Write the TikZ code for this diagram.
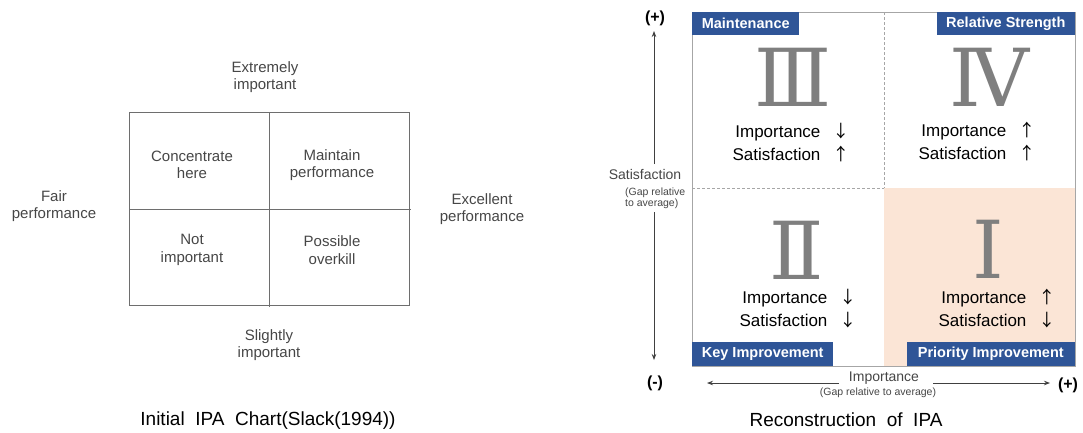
\documentclass[tikz,border=0pt]{standalone}
\usepackage{fontspec}
\setmainfont{Liberation Sans}
\newfontfamily\cjkfont{Noto Sans CJK KR}
\newfontfamily\romanfont{DejaVu Serif}
\usetikzlibrary{arrows.meta,positioning}
\definecolor{hdr_blue}{RGB}{47,85,151}
\definecolor{prio_pink}{RGB}{251,229,214}
\definecolor{num_gray}{RGB}{127,127,127}
\definecolor{frame_gray}{RGB}{166,166,166}
\definecolor{chart_gray}{RGB}{110,110,110}
\definecolor{txt_gray}{RGB}{70,70,70}
\tikzstyle{slack}=[align=center,text=txt_gray,inner sep=0pt,
  font=\fontsize{15}{17.5}\selectfont]
\tikzstyle{hdr}=[fill=hdr_blue,text=white,inner sep=0pt,
  font=\bfseries\fontsize{14.5}{16}\selectfont]
\tikzstyle{numeral}=[text=num_gray,inner sep=0pt,text height=58pt,text depth=0pt,
  font=\romanfont\fontsize{80}{80}\selectfont]
\tikzstyle{trend}=[inner sep=0pt,font=\fontsize{17}{23}\selectfont]
\tikzstyle{axlab}=[align=center,text=txt_gray,inner sep=0pt,font=\fontsize{14}{15}\selectfont]
\tikzstyle{gap}=[align=left,text=txt_gray,inner sep=0pt,font=\fontsize{10.5}{11}\selectfont]
\tikzstyle{sign}=[inner sep=0pt,font=\bfseries\fontsize{16}{17}\selectfont]
\tikzstyle{axarrow}=[-{Stealth[length=6pt,width=4.5pt]},line width=0.8pt,draw=black!75]
\tikzstyle{caption}=[inner sep=0pt,font=\fontsize{19}{21}\selectfont]
\newcommand{\up}{{\cjkfont ↑}}
\newcommand{\down}{{\cjkfont ↓}}
\newcommand{\trendtab}[2]{\begin{tabular}{@{}r@{\hspace{12pt}}c@{}}Importance & #1\\Satisfaction & #2\end{tabular}}

\begin{document}
\begin{tikzpicture}[x=1pt,y=-1pt]
    \useasboundingbox (0,0) rectangle (1083,432);
    % initial chart
    \draw[chart_gray,line width=1pt] (129,112) rectangle (409,305);
    \draw[chart_gray,line width=1pt] (269,112) -- (269,307);
    \draw[chart_gray,line width=1pt] (129,209) -- (411,209);
    \node [style=slack] (ext) at (265,77) {Extremely\\important};
    \node [style=slack] (conc) at (192,165) {Concentrate\\here};
    \node [style=slack] (main) at (332,165) {Maintain\\performance};
    \node [style=slack] (notimp) at (192,250) {Not\\important};
    \node [style=slack] (over) at (332,250) {Possible\\overkill};
    \node [style=slack] (fair) at (54,206) {Fair\\performance};
    \node [style=slack] (exc) at (482,209) {Excellent\\performance};
    \node [style=slack] (slight) at (269,345) {Slightly\\important};
    \node [style=caption] (cap1) at (268,421) {Initial\ \ IPA\ \ Chart(Slack(1994))};
    % reconstruction
    \fill[prio_pink] (884,188) rectangle (1075,366);
    \draw[frame_gray,line width=1pt] (692,12) rectangle (1075,366);
    \draw[frame_gray,dashed,dash pattern=on 3pt off 2pt,line width=0.8pt] (884,12) -- (884,188);
    \draw[frame_gray,dashed,dash pattern=on 3pt off 2pt,line width=0.8pt] (692,188) -- (884,188);
    \node [style=hdr,anchor=north west,minimum width=107,minimum height=23] (mnt) at (692,12) {Maintenance};
    \node [style=hdr,anchor=north east,minimum width=138,minimum height=23] (rel) at (1075,12) {Relative Strength};
    \node [style=hdr,anchor=south west,minimum width=141,minimum height=24] (key) at (692,366) {Key Improvement};
    \node [style=hdr,anchor=south east,minimum width=168,minimum height=24] (pri) at (1075,366) {Priority Improvement};
    \node [style=numeral] (n3) at (793,77.5) {Ⅲ};
    \node [style=numeral] (n4) at (989,77.5) {Ⅳ};
    \node [style=numeral] (n2) at (797,250) {Ⅱ};
    \node [style=numeral] (n1) at (988,249) {Ⅰ};
    \node [style=trend] (t3) at (791,144.5) {\trendtab{\down}{\up}};
    \node [style=trend] (t4) at (977,143) {\trendtab{\up}{\up}};
    \node [style=trend] (t2) at (798,310) {\trendtab{\down}{\down}};
    \node [style=trend] (t1) at (997,310) {\trendtab{\up}{\down}};
    % axes
    \node [style=sign] (splus) at (655,18) {(+)};
    \node [style=sign] (sminus) at (655,383) {(-)};
    \node [style=sign] (iplus) at (1068,385) {(+)};
    \node [style=axlab] (satlab) at (645,174) {Satisfaction};
    \node [style=gap,anchor=west] (satgap) at (625,198.5) {(Gap relative\\to average)};
    \node [style=axlab] (implab) at (884,378) {Importance};
    \node [style=gap] (impgap) at (878,393) {(Gap relative to average)};
    \coordinate (sup0) at (654,164);
    \coordinate (sup1) at (654,31);
    \coordinate (sdn0) at (654,212);
    \coordinate (sdn1) at (654,360);
    \coordinate (ilf0) at (839,383);
    \coordinate (ilf1) at (707,383);
    \coordinate (irt0) at (933,383);
    \coordinate (irt1) at (1050,383);
    \draw [style=axarrow] (sup0) to (sup1);
    \draw [style=axarrow] (sdn0) to (sdn1);
    \draw [style=axarrow] (ilf0) to (ilf1);
    \draw [style=axarrow] (irt0) to (irt1);
    \node [style=caption] (cap2) at (846,420) {Reconstruction\ \ of\ \ IPA};
\end{tikzpicture}
\end{document}
